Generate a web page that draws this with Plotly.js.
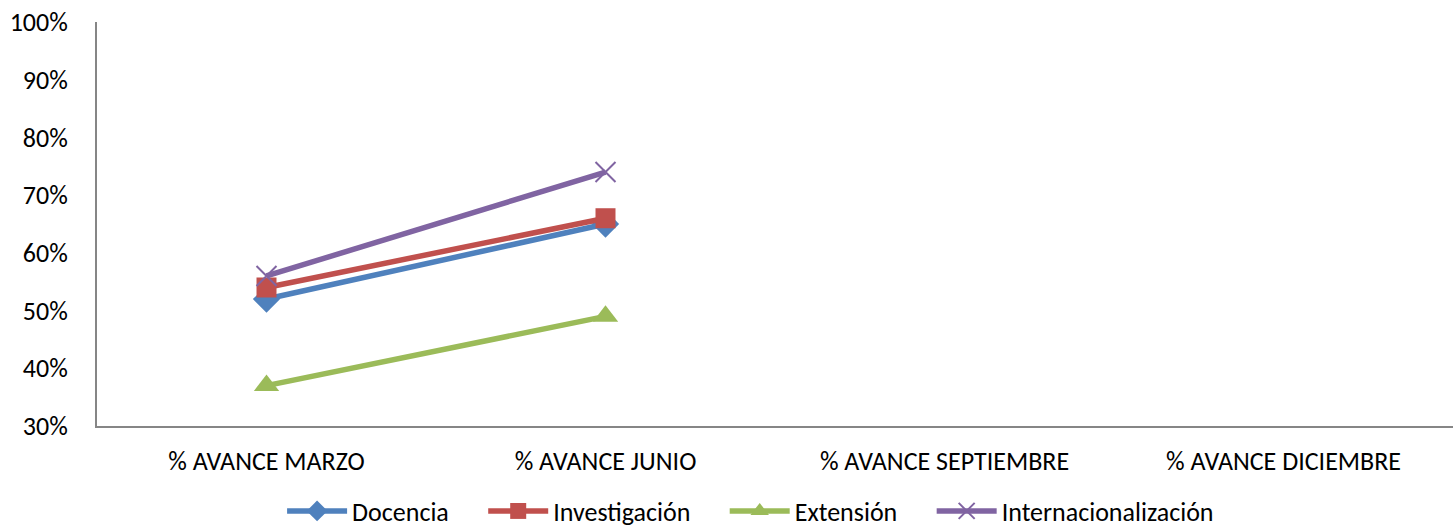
<!DOCTYPE html>
<html><head><meta charset="utf-8">
<script src="https://cdn.plot.ly/plotly-3.0.1.min.js"></script>
<style>html,body{margin:0;padding:0;background:#fff}</style>
</head><body>
<div id="chart" style="width:1453px;height:529px"></div>
<script>
const categories = ["% AVANCE MARZO", "% AVANCE JUNIO", "% AVANCE SEPTIEMBRE", "% AVANCE DICIEMBRE"];
const docencia = [0.52, 0.65, null, null];
const investigacion = [0.54, 0.66, null, null];
const extension = [0.37, 0.49, null, null];
const internacionalizacion = [0.56, 0.74, null, null];
const seriesNames = ["Docencia", "Investigación", "Extensión", "Internacionalización"];
const yTicks = [0.3, 0.4, 0.5, 0.6, 0.7, 0.8, 0.9, 1.0];

const FONT = "Carlito, Calibri, Lato, sans-serif";
const PAD = "\u00a0\u00a0\u00a0\u00a0\u00a0";
const styles = [
  {color: "#4F81BD", symbol: "diamond", size: 21},
  {color: "#C0504D", symbol: "square", size: 20},
  {color: "#9BBB59", symbol: "triangle-up", size: 22},
  {color: "#8064A2", symbol: "x-thin-open", size: 20}
];
const data = [docencia, investigacion, extension, internacionalizacion].map((ys, i) => ({
  type: "scatter", mode: "lines+markers", x: categories, y: ys,
  name: seriesNames[i] + (i < 3 ? PAD : ""),
  line: {color: styles[i].color, width: 5.5},
  marker: {color: styles[i].color, symbol: styles[i].symbol, size: styles[i].size,
           line: {color: styles[i].color, width: i === 3 ? 2 : 0}},
  connectgaps: false
}));

const layout = {
  width: 1453, height: 529,
  margin: {l: 97, r: 0, t: 22, b: 103},
  paper_bgcolor: "#fff", plot_bgcolor: "#fff",
  font: {family: FONT, size: 26, color: "#000"},
  showlegend: true,
  legend: {orientation: "h", x: 0.482, xanchor: "center", yref: "container", y: 0.034, yanchor: "middle",
           font: {family: FONT, size: 26, color: "#000"}, itemwidth: 60, tracegroupgap: 0,
           traceorder: "normal"},
  xaxis: {type: "category", range: [-0.5, 3.5], showgrid: false, zeroline: false,
          showline: true, linecolor: "#868686", linewidth: 2, ticks: "", ticklabelstandoff: 11,
          tickfont: {family: FONT, size: 26, color: "#000"}},
  yaxis: {range: [0.3, 1.0], tickvals: yTicks, tickformat: ".0%", showgrid: false, zeroline: false,
          showline: true, linecolor: "#868686", linewidth: 2, ticks: "", ticklabelstandoff: 22,
          tickfont: {family: FONT, size: 26, color: "#000"}}
};
Plotly.newPlot("chart", data, layout, {displayModeBar: false, staticPlot: true});
</script>
</body></html>
